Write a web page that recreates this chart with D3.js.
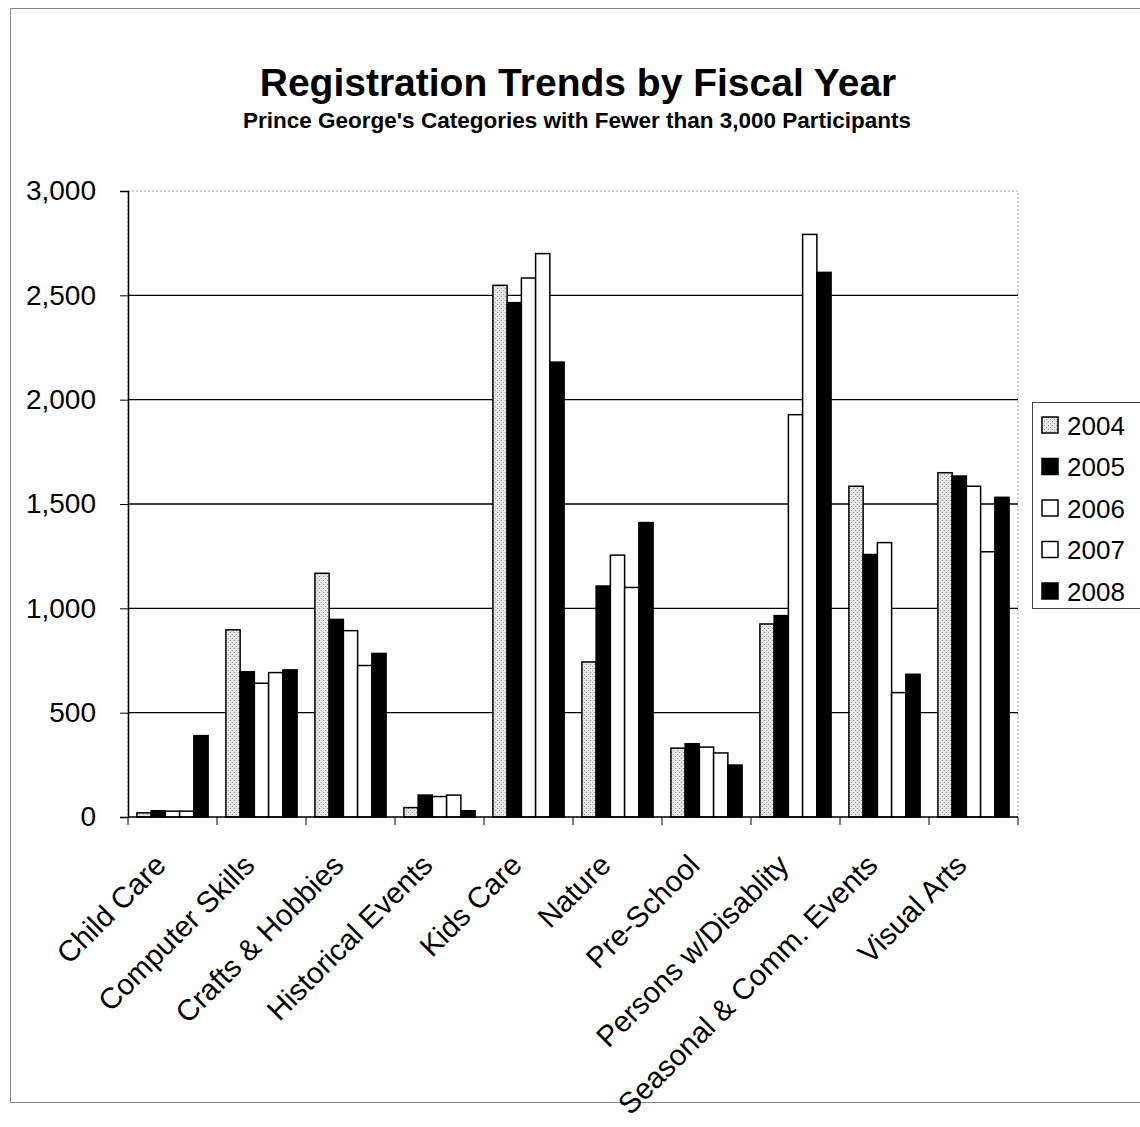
<!DOCTYPE html>
<head>
  <meta charset="utf-8">
  <script src="https://d3js.org/d3.v7.min.js"></script>
  <style>
    body { margin:0; background:#fff; }
    text { font-family: Arial, "Liberation Sans", sans-serif; fill:#000; }
  </style>
</head>

<body>
  <script>
    var categories = ["Child Care", "Computer Skills", "Crafts & Hobbies", "Historical Events",
      "Kids Care", "Nature", "Pre-School", "Persons w/Disablity",
      "Seasonal & Comm. Events", "Visual Arts"];
    var years = ["2004", "2005", "2006", "2007", "2008"];
    var v2004 = [20, 897, 1168, 45, 2548, 743, 330, 925, 1585, 1650];
    var v2005 = [30, 696, 947, 105, 2465, 1107, 351, 965, 1258, 1634];
    var v2006 = [28, 641, 893, 98, 2583, 1255, 335, 1928, 1315, 1585];
    var v2007 = [28, 692, 726, 105, 2700, 1100, 307, 2792, 596, 1271];
    var v2008 = [390, 705, 784, 30, 2180, 1411, 249, 2610, 684, 1532];
    var yTicks = [0, 500, 1000, 1500, 2000, 2500, 3000];

    var series = [v2004, v2005, v2006, v2007, v2008];
    var fills = ["url(#stipple)", "#000", "#fff", "#fff", "#000"];

    var width = 1140, height = 1127;
    var plotLeft = 128, plotRight = 1018, plotTop = 191, plotBottom = 817;

    var svg = d3.select("body").append("svg")
      .attr("width", width)
      .attr("height", height);

    // light stippled grey for 2004
    var pat = svg.append("defs").append("pattern")
      .attr("id", "stipple")
      .attr("width", 4).attr("height", 4)
      .attr("patternUnits", "userSpaceOnUse");
    pat.append("rect").attr("width", 4).attr("height", 4).attr("fill", "#e4e4e4");
    pat.append("rect").attr("x", 0).attr("y", 0).attr("width", 1).attr("height", 1).attr("fill", "#999");
    pat.append("rect").attr("x", 2).attr("y", 2).attr("width", 1).attr("height", 1).attr("fill", "#aaa");

    // chart border
    svg.append("rect")
      .attr("x", 10.5).attr("y", 8.5)
      .attr("width", 1200).attr("height", 1094)
      .attr("fill", "none").attr("stroke", "#888").attr("stroke-width", 1);

    var x0 = d3.scaleBand()
      .domain(categories)
      .range([plotLeft, plotRight])
      .paddingInner(0.2)
      .paddingOuter(0.1);

    var x1 = d3.scaleBand()
      .domain(years)
      .range([0, x0.bandwidth()]);

    var y = d3.scaleLinear()
      .domain([0, 3000])
      .range([plotBottom, plotTop]);

    // plot area
    svg.append("rect")
      .attr("x", plotLeft).attr("y", plotTop)
      .attr("width", plotRight - plotLeft).attr("height", plotBottom - plotTop)
      .attr("fill", "none").attr("stroke", "#aaa").attr("stroke-dasharray", "2,2");

    // gridlines
    svg.append("g")
      .selectAll("line")
      .data(yTicks.filter(function(d) { return d > 0 && d < 3000; }))
      .enter().append("line")
      .attr("x1", plotLeft).attr("x2", plotRight)
      .attr("y1", function(d) { return y(d); })
      .attr("y2", function(d) { return y(d); })
      .attr("stroke", "#000").attr("stroke-width", 1.3);

    // bars
    var groups = svg.append("g")
      .selectAll("g")
      .data(categories)
      .enter().append("g")
      .attr("transform", function(d) { return "translate(" + x0(d) + ",0)"; });

    groups.selectAll("rect")
      .data(function(d, i) {
        return years.map(function(yr, j) { return {year: yr, value: series[j][i], j: j}; });
      })
      .enter().append("rect")
      .attr("x", function(d) { return x1(d.year); })
      .attr("y", function(d) { return y(d.value); })
      .attr("width", x1.bandwidth())
      .attr("height", function(d) { return y(0) - y(d.value); })
      .attr("fill", function(d) { return fills[d.j]; })
      .attr("stroke", "#000")
      .attr("stroke-width", 1.5);

    // y axis
    var yAxis = svg.append("g")
      .attr("transform", "translate(" + plotLeft + ",0)")
      .call(d3.axisLeft(y).tickValues(yTicks).tickSize(8).tickPadding(24).tickFormat(d3.format(",")));
    yAxis.select(".domain").attr("stroke", "#000").attr("stroke-width", 1.5);
    yAxis.selectAll("text").style("font-size", "28px").style("font-family", "Arial, 'Liberation Sans', sans-serif");

    // x axis line + boundary ticks
    svg.append("line")
      .attr("x1", plotLeft).attr("x2", plotRight)
      .attr("y1", plotBottom).attr("y2", plotBottom)
      .attr("stroke", "#000").attr("stroke-width", 1.5);

    svg.append("g")
      .selectAll("line")
      .data(d3.range(categories.length + 1))
      .enter().append("line")
      .attr("x1", function(i) { return plotLeft + i * x0.step(); })
      .attr("x2", function(i) { return plotLeft + i * x0.step(); })
      .attr("y1", plotBottom).attr("y2", plotBottom + 8)
      .attr("stroke", "#000");

    svg.append("g")
      .selectAll("text")
      .data(categories)
      .enter().append("text")
      .attr("transform", function(d) {
        return "translate(" + (x0(d) + x0.bandwidth() / 2 - 5) + "," + (plotBottom + 50) + ") rotate(-45)";
      })
      .attr("text-anchor", "end")
      .style("font-size", "29.5px")
      .text(function(d) { return d; });

    // titles
    svg.append("text")
      .attr("x", 578).attr("y", 96)
      .attr("text-anchor", "middle")
      .style("font-size", "39px").style("font-weight", "bold")
      .text("Registration Trends by Fiscal Year");

    svg.append("text")
      .attr("x", 577).attr("y", 128)
      .attr("text-anchor", "middle")
      .style("font-size", "22.5px").style("font-weight", "bold")
      .text("Prince George's Categories with Fewer than 3,000 Participants");

    // legend
    var legend = svg.append("g").attr("transform", "translate(1032,402)");
    legend.append("rect")
      .attr("x", 0.5).attr("y", 0.5)
      .attr("width", 200).attr("height", 206)
      .attr("fill", "#fff").attr("stroke", "#444");

    var item = legend.selectAll("g.item")
      .data(years)
      .enter().append("g")
      .attr("class", "item")
      .attr("transform", function(d, i) { return "translate(0," + (23 + i * 41.5) + ")"; });

    item.append("rect")
      .attr("x", 10).attr("y", -8)
      .attr("width", 16).attr("height", 16)
      .attr("fill", function(d, i) { return fills[i]; })
      .attr("stroke", "#000").attr("stroke-width", 1.5);

    item.append("text")
      .attr("x", 35).attr("y", 9.5)
      .style("font-size", "26px")
      .text(function(d) { return d; });
  </script>
</body>
